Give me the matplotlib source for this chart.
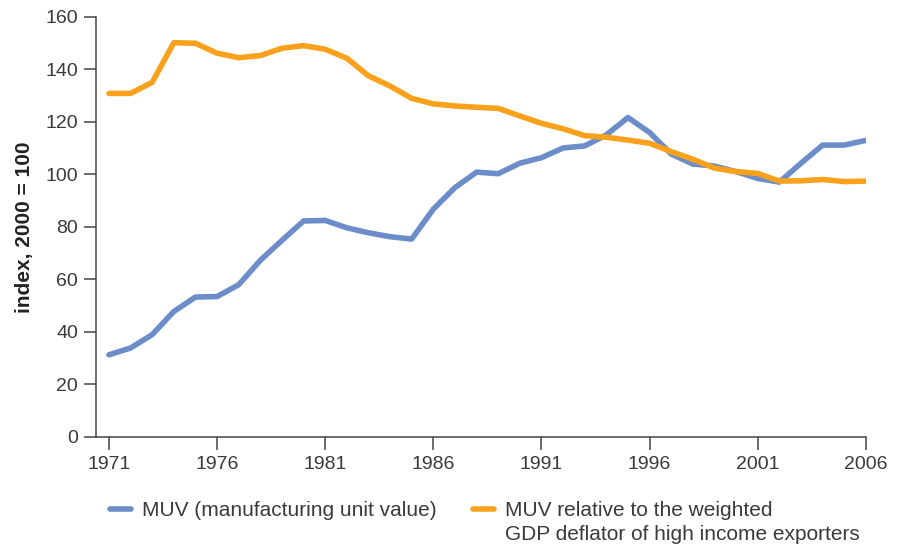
import numpy as np
import matplotlib
matplotlib.use('Agg')
import matplotlib.pyplot as plt
from matplotlib.lines import Line2D

# data (index, 2000 = 100)
years = list(range(1971, 2007))
muv = [31.3, 33.9, 39.0, 47.8, 53.3, 53.5, 58.0, 67.3, 74.9, 82.3,
       82.5, 79.7, 77.8, 76.3, 75.4, 86.8, 95.0, 100.9, 100.3, 104.3,
       106.4, 110.1, 110.9, 115.1, 121.7, 116.0, 107.8, 104.0, 103.2, 101.1,
       98.5, 97.1, 104.3, 111.2, 111.2, 113.0]
muv_rel = [130.9, 130.9, 135.1, 150.2, 150.0, 146.2, 144.5, 145.3, 148.1, 149.1,
           147.7, 144.3, 137.6, 133.7, 129.0, 126.9, 126.1, 125.6, 125.2, 122.3,
           119.5, 117.4, 114.8, 114.2, 113.1, 111.9, 108.7, 105.8, 102.4, 101.1,
           100.4, 97.5, 97.6, 98.1, 97.3, 97.5]
xticks = [1971, 1976, 1981, 1986, 1991, 1996, 2001, 2006]
yticks = [0, 20, 40, 60, 80, 100, 120, 140, 160]
labels = ['MUV (manufacturing unit value)',
          'MUV relative to the weighted\nGDP deflator of high income exporters']

blue = '#6c8dc9'
orange = '#f9a11b'
txt = '#3a3a3a'

plt.rcParams['font.family'] = ['Liberation Sans', 'DejaVu Sans']

fig = plt.figure(figsize=(9.01, 5.44), dpi=100)
ax = fig.add_axes([0.1065, 0.1967, 0.961 - 0.1065, 0.96875 - 0.1967])

ax.plot(years, muv, color=blue, lw=4, solid_capstyle='round', solid_joinstyle='round')
ax.plot(years, muv_rel, color=orange, lw=4, solid_capstyle='round', solid_joinstyle='round')

ax.set_xlim(1970.4, 2006)
ax.set_ylim(0, 160)
ax.set_xticks(xticks)
ax.set_yticks(yticks)
ax.tick_params(axis='both', direction='out', length=9, width=1.1, color='#444444',
               labelsize=14, labelcolor=txt)
ax.tick_params(axis='y', pad=4)
ax.tick_params(axis='x', pad=5)
for s in ['top', 'right']:
    ax.spines[s].set_visible(False)
for s in ['left', 'bottom']:
    ax.spines[s].set_color('#444444')
    ax.spines[s].set_linewidth(1.1)

ax.set_ylabel('index, 2000 = 100', fontsize=15, fontweight='bold', color='#222222',
              labelpad=8)

# legend, drawn by hand so the handle sits on the first line of the text
W, H = 901.0, 544.0
colors = [blue, orange]
handle_x = [110, 473]
for c, x0, lab in zip(colors, handle_x, labels):
    fig.add_artist(Line2D([x0 / W, (x0 + 21) / W], [1 - 509 / H, 1 - 509 / H],
                          color=c, lw=4, solid_capstyle='round'))
    fig.text((x0 + 32) / W, 1 - 501 / H, lab, fontsize=15, color=txt,
             ha='left', va='top', linespacing=1.3,
             transform=fig.transFigure)

fig.savefig('out.png', dpi=100)
